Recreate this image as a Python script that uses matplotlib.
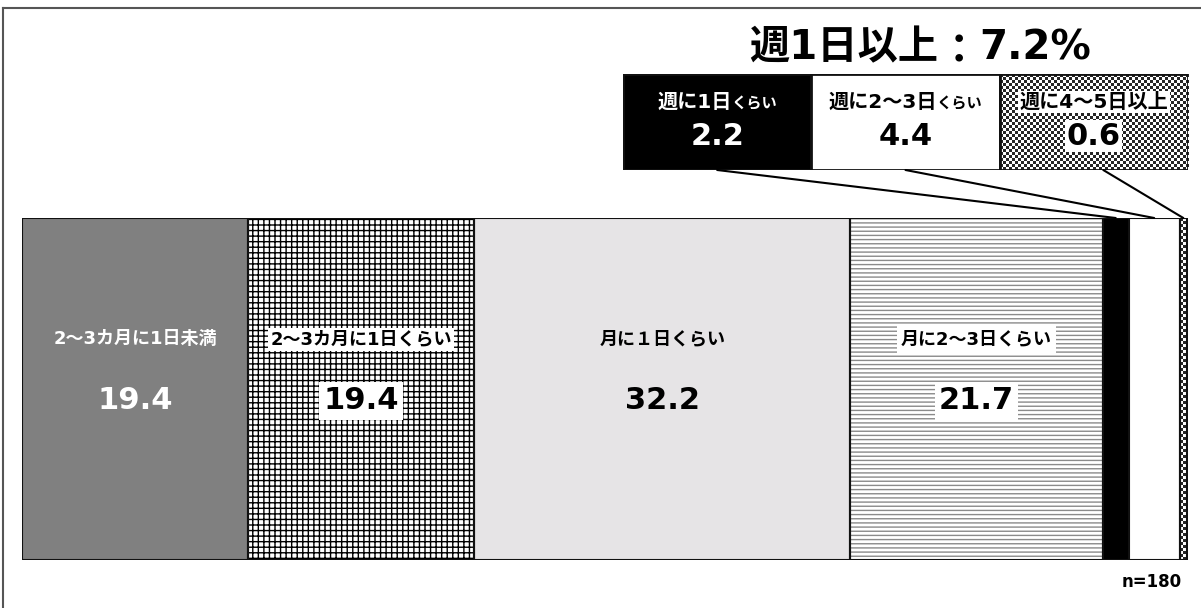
import matplotlib
matplotlib.use("Agg")
import matplotlib.pyplot as plt
import numpy as np
from matplotlib.patches import ConnectionPatch
from matplotlib.lines import Line2D
from matplotlib.transforms import offset_copy

FAM = ['DejaVu Sans', 'Noto Sans CJK JP']
plt.rcParams['font.family'] = FAM
plt.rcParams['hatch.linewidth'] = 1.0

# ---- data ----
categories = ["2～3カ月に1日未満", "2～3カ月に1日くらい", "月に１日くらい", "月に2～3日くらい",
              "週に1日くらい", "週に2～3日くらい", "週に4～5日以上"]
values = [19.4, 19.4, 32.2, 21.7, 2.2, 4.4, 0.6]
weekly_total = 7.2
n_label = "n=180"

W, H = 1201, 608
fig = plt.figure(figsize=(W / 100, H / 100), dpi=100)
renderer = fig.canvas.get_renderer()

def px_axes(x0, y0, x1, y1):
    return fig.add_axes([x0 / W, 1 - y1 / H, (x1 - x0) / W, (y1 - y0) / H])

def place_parts(axx, x, y, parts, color, bbox_main=None):
    """parts: list of (text, fontsize, dy_px). Centered horizontally at (x, y) data coords."""
    texts, widths = [], []
    for k, (s, fs, dy) in enumerate(parts):
        t = axx.text(x, y, s, ha='left', va='center', fontsize=fs, fontweight='bold',
                     color=color, zorder=5, bbox=bbox_main if k == 0 else None)
        texts.append(t)
        widths.append(t.get_window_extent(renderer).width)
    tot = sum(widths)
    acc = -tot / 2
    for t, w, (s, fs, dy) in zip(texts, widths, parts):
        t.set_transform(offset_copy(axx.transData, fig=fig, x=acc, y=-dy, units='dots'))
        acc += w
    return texts

# outer frame (top & left visible)
fig.add_artist(Line2D([3 / W, 3 / W], [0, 1 - 8 / H], transform=fig.transFigure, color='#555555', lw=1.5))
fig.add_artist(Line2D([3 / W, 1], [1 - 8 / H, 1 - 8 / H], transform=fig.transFigure, color='#555555', lw=1.5))

ax = px_axes(22, 218, 1188, 560)
ax.set_xlim(0, 100)
ax.set_ylim(0, 1)
ax.axis('off')

lefts = np.concatenate([[0], np.cumsum(values)[:-1]])

styles = [
    dict(color='#808080', hatch=None, hcolor=None),
    dict(color='white', hatch='+++', hcolor='black'),
    dict(color='#e6e4e6', hatch=None, hcolor=None),
    dict(color='white', hatch='----', hcolor='#8a8a8a'),
    dict(color='black', hatch=None, hcolor=None),
    dict(color='white', hatch=None, hcolor=None),
    dict(color='white', hatch='checker', hcolor=None),
]

def checker(axx, patch, cell_px, x0, x1, y0, y1):
    bb = patch.get_window_extent(renderer)
    nx = max(2, int(round(bb.width / cell_px)))
    ny = max(2, int(round(bb.height / cell_px)))
    arr = (np.add.outer(np.arange(ny), np.arange(nx)) % 2).astype(float)
    arr = 0.15 + 0.85 * arr
    im = axx.imshow(arr, cmap='gray', vmin=0, vmax=1, extent=[x0, x1, y0, y1],
                    aspect='auto', interpolation='nearest', zorder=1.5)
    im.set_clip_path(patch)

fig.canvas.draw()
for i, (v, l, st) in enumerate(zip(values, lefts, styles)):
    if st['hatch'] and st['hatch'] != 'checker':
        ax.barh(0.5, v, left=l, height=1, color=st['color'], edgecolor=st['hcolor'],
                hatch=st['hatch'], linewidth=0, zorder=1)
        ax.barh(0.5, v, left=l, height=1, color='none', edgecolor='#111111', linewidth=1.5, zorder=3)
    else:
        b = ax.barh(0.5, v, left=l, height=1, color=st['color'], edgecolor='#111111',
                    linewidth=1.5, zorder=1 if st['hatch'] else 2)
        if st['hatch'] == 'checker':
            checker(ax, b.patches[0], 3, l, l + v, 0, 1)
            ax.barh(0.5, v, left=l, height=1, color='none', edgecolor='#111111', linewidth=1.5, zorder=3)
ax.set_xlim(0, 100)
ax.set_ylim(0, 1)

# labels for the first four segments
lab_kw = [
    dict(color='white', bbox=None),
    dict(color='black', bbox=dict(facecolor='white', edgecolor='none', pad=1.5)),
    dict(color='black', bbox=None),
    dict(color='black', bbox=dict(facecolor='white', edgecolor='none', pad=3)),
]
for i in range(4):
    cx = lefts[i] + values[i] / 2
    kw = lab_kw[i]
    ax.text(cx, 0.645, categories[i], ha='center', va='center', fontsize=13,
            fontweight='bold', color=kw['color'], bbox=kw['bbox'], zorder=5)
    vb = dict(facecolor='white', edgecolor='none', pad=3) if kw['bbox'] else None
    ax.text(cx, 0.465, f"{values[i]:.1f}", ha='center', va='center', fontsize=22,
            fontweight='bold', color=kw['color'], bbox=vb, zorder=5)

# ---- inset boxes for weekly categories ----
ax2 = px_axes(623, 74, 1188, 170)
ax2.set_xlim(0, 3)
ax2.set_ylim(0, 1)
ax2.axis('off')
box_fc = ['black', 'white', 'white']
fig.canvas.draw()
for j in range(3):
    b = ax2.barh(0.5, 1, left=j, height=1, color=box_fc[j], edgecolor='#111111', linewidth=2,
                 zorder=1)
    if j == 2:
        checker(ax2, b.patches[0], 3, j, j + 1, 0, 1)
        ax2.barh(0.5, 1, left=j, height=1, color='none', edgecolor='#111111', linewidth=2, zorder=3)
ax2.set_xlim(0, 3)
ax2.set_ylim(0, 1)

txt_col = ['white', 'black', 'black']
for j in range(3):
    idx = 4 + j
    lab = categories[idx]
    if lab.endswith("くらい"):
        parts = [(lab[:-3], 14.5, 0), ("くらい", 11, 2)]
    else:
        parts = [(lab, 14.5, 0)]
    bb = dict(facecolor='white', edgecolor='none', pad=1) if j == 2 else None
    place_parts(ax2, j + 0.5, 0.71, parts, txt_col[j], bbox_main=bb)
    bb2 = dict(facecolor='white', edgecolor='none', pad=1) if j == 2 else None
    ax2.text(j + 0.5, 0.35, f"{values[idx]:.1f}", ha='center', va='center', fontsize=22,
             fontweight='bold', color=txt_col[j], bbox=bb2, zorder=5)

# title above the inset, drawn in an invisible full-figure axes
axt = fig.add_axes([0, 0, 1, 1], facecolor='none')
axt.set_xlim(0, W)
axt.set_ylim(H, 0)
axt.axis('off')
place_parts(axt, 920, 48, [("週1日以上", 29, 0), ("：", 29, 4), (f"{weekly_total:.1f}%", 29, 0)], 'black')

# connector lines
for j in range(3):
    idx = 4 + j
    cx = lefts[idx] + values[idx] / 2
    xa = j + 0.5 if j < 2 else j + 0.55
    con = ConnectionPatch(xyA=(xa, 0), coordsA=ax2.transData,
                          xyB=(cx, 1), coordsB=ax.transData, color='black', lw=1.5)
    fig.add_artist(con)

fig.text(1182 / W, 1 - 582 / H, n_label, ha='right', va='center', fontsize=12,
         fontweight='bold', color='black')

fig.savefig('out.png', dpi=100)
